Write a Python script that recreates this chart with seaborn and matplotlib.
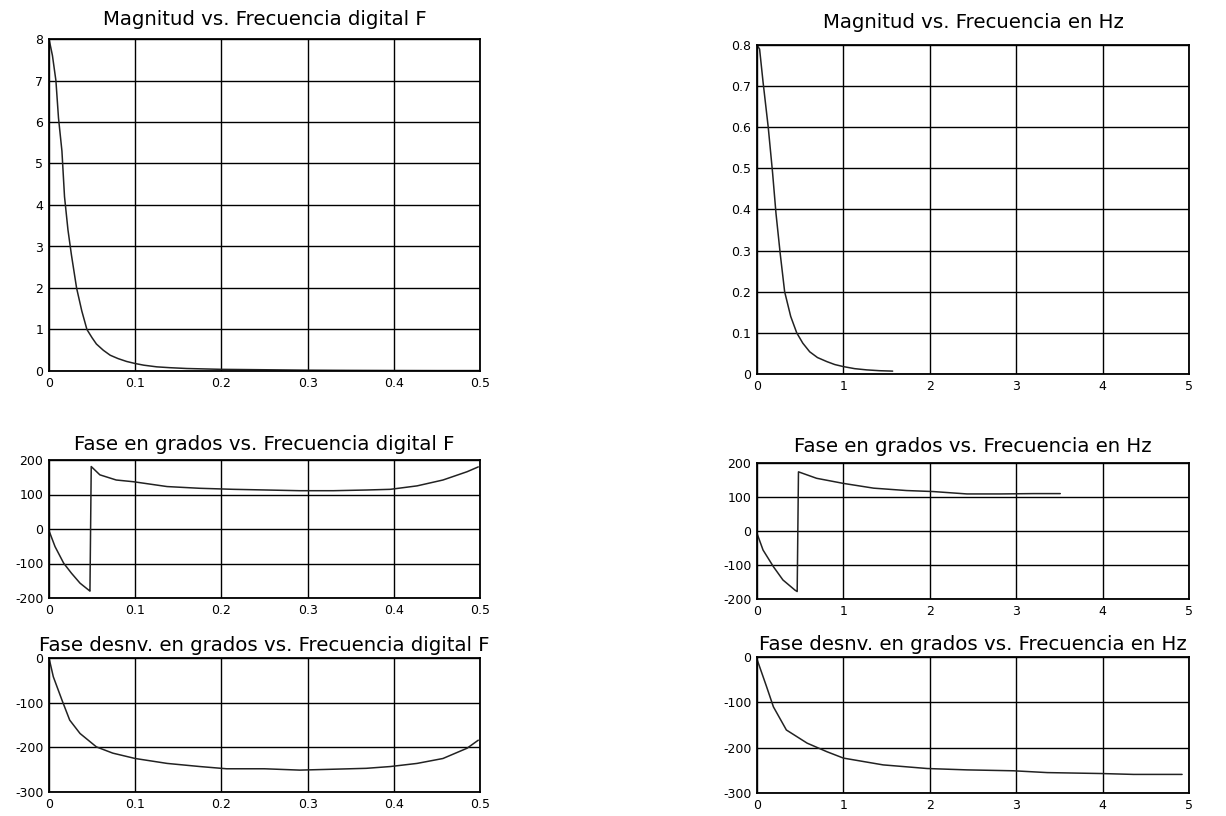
import numpy as np
import matplotlib
matplotlib.use("Agg")
import matplotlib.pyplot as plt
import seaborn as sns
import pandas as pd

# ---- data ----
# magnitude vs digital frequency F
F_mag = [0, 0.004, 0.008, 0.011, 0.015, 0.018, 0.022, 0.026, 0.032, 0.038, 0.044,
         0.05, 0.055, 0.063, 0.071, 0.08, 0.09, 0.1, 0.11, 0.125, 0.14, 0.16,
         0.2, 0.25, 0.3, 0.35, 0.4, 0.45, 0.5]
mag_F = [8.0, 7.6, 7.0, 6.1, 5.3, 4.2, 3.4, 2.8, 2.0, 1.45, 1.0,
         0.8, 0.65, 0.5, 0.38, 0.3, 0.23, 0.18, 0.14, 0.1, 0.08, 0.06,
         0.04, 0.03, 0.02, 0.015, 0.012, 0.01, 0.01]

# magnitude vs frequency in Hz
f_mag = [0, 0.03, 0.07, 0.13, 0.18, 0.22, 0.27, 0.32, 0.39, 0.46, 0.53, 0.61,
         0.7, 0.81, 0.9, 1.0, 1.13, 1.27, 1.42, 1.57]
mag_f = [0.8, 0.79, 0.71, 0.60, 0.49, 0.39, 0.29, 0.20, 0.14, 0.10, 0.075, 0.054,
         0.04, 0.03, 0.023, 0.018, 0.013, 0.01, 0.008, 0.007]

# phase (degrees) vs F
F_ph = [0, 0.007, 0.017, 0.026, 0.036, 0.046, 0.0475, 0.049, 0.059, 0.078, 0.098,
        0.137, 0.175, 0.214, 0.253, 0.291, 0.33, 0.368, 0.396, 0.427, 0.457,
        0.485, 0.498]
ph_F = [-5, -51, -99, -128, -157, -177, -180, 181, 157, 142, 137,
        123, 118, 115, 113, 111, 111, 113, 115, 125, 142,
        166, 180]

# phase (degrees) vs Hz
f_ph = [0, 0.07, 0.19, 0.30, 0.44, 0.465, 0.48, 0.69, 1.0, 1.35, 1.73, 2.04,
        2.43, 2.82, 3.2, 3.51]
ph_f = [-7, -56, -105, -144, -174, -178, 174, 155, 140, 126, 119, 116,
        109, 109, 110, 110]

# unwrapped phase vs F
F_un = [0, 0.005, 0.015, 0.024, 0.036, 0.055, 0.074, 0.1, 0.137, 0.175, 0.206,
        0.25, 0.291, 0.33, 0.368, 0.396, 0.427, 0.457, 0.485, 0.498]
un_F = [0, -42, -94, -139, -169, -199, -213, -225, -236, -243, -248,
        -248, -251, -249, -247, -243, -236, -225, -202, -184]

# unwrapped phase vs Hz
f_un = [0, 0.11, 0.19, 0.34, 0.58, 0.81, 1.0, 1.46, 1.97, 2.43, 2.97, 3.36,
        3.97, 4.36, 4.92]
un_f = [-5, -65, -110, -161, -190, -209, -223, -238, -246, -249, -251, -255,
        -257, -259, -259]

# title, x, y, xlim, ylim, xticks, yticks, pixel box, title pad
panels = [
    ("Magnitud vs. Frecuencia digital F", F_mag, mag_F, [0, 0.5], [0, 8], np.arange(0, 0.51, 0.1), np.arange(0, 9, 1), [49, 39, 480, 371], 10),
    ("Magnitud vs. Frecuencia en Hz", f_mag, mag_f, [0, 5], [0, 0.8], np.arange(0, 6, 1), np.arange(0, 0.81, 0.1), [757, 45, 1189, 374], 12),
    ("Fase en grados vs. Frecuencia digital F", F_ph, ph_F, [0, 0.5], [-200, 200], np.arange(0, 0.51, 0.1), np.arange(-200, 201, 100), [49, 460, 480, 598], 7),
    ("Fase en grados vs. Frecuencia en Hz", f_ph, ph_f, [0, 5], [-200, 200], np.arange(0, 6, 1), np.arange(-200, 201, 100), [757, 463, 1189, 599], 8),
    ("Fase desnv. en grados vs. Frecuencia digital F", F_un, un_F, [0, 0.5], [-300, 0], np.arange(0, 0.51, 0.1), np.arange(-300, 1, 100), [49, 658, 480, 792], 5),
    ("Fase desnv. en grados vs. Frecuencia en Hz", f_un, un_f, [0, 5], [-300, 0], np.arange(0, 6, 1), np.arange(-300, 1, 100), [757, 657, 1189, 793], 5),
]

sns.set_theme(style="white")
plt.rcParams['font.family'] = ['DejaVu Sans']

W, H = 1226, 816
fig = plt.figure(figsize=(W / 100, H / 100), dpi=100)

for title, x, y, xl, yl, xt, yt, box, pad in panels:
    x0, y0, x1, y1 = box
    ax = fig.add_axes([x0 / W, 1 - y1 / H, (x1 - x0) / W, (y1 - y0) / H])
    df = pd.DataFrame({"x": x, "y": y})
    sns.lineplot(data=df, x="x", y="y", ax=ax, sort=False, estimator=None,
                 color="#222222", linewidth=1.1)
    ax.set_xlim(xl)
    ax.set_ylim(yl)
    ax.set_xticks(xt)
    ax.set_yticks(yt)
    ax.set_xticklabels(["{:g}".format(round(v, 2)) for v in xt])
    ax.set_yticklabels(["{:g}".format(round(v, 2)) for v in yt])
    ax.grid(True, color="black", linewidth=1.0)
    ax.set_axisbelow(True)
    for s in ax.spines.values():
        s.set_color("black")
        s.set_linewidth(1.3)
    ax.tick_params(axis="both", labelsize=9, length=0, pad=4, colors="black")
    ax.set_xlabel("")
    ax.set_ylabel("")
    ax.set_title(title, fontsize=14.2, pad=pad, color="black")

fig.savefig("out.png", dpi=100, facecolor="white")
